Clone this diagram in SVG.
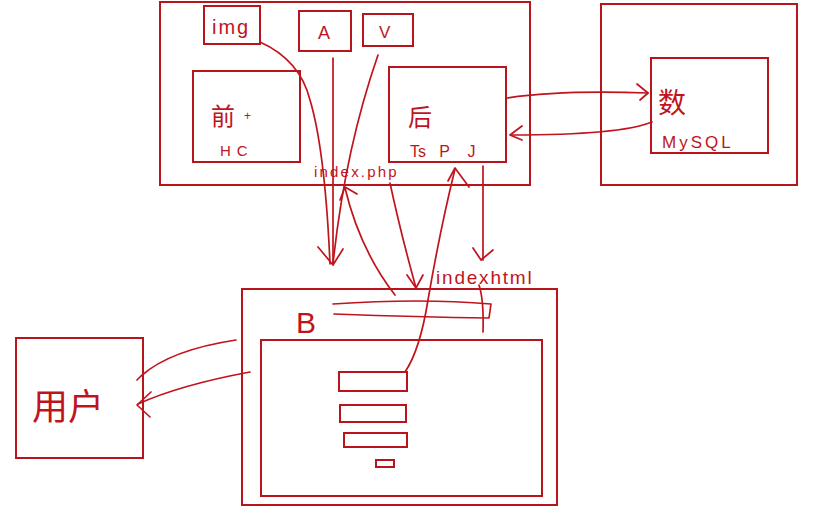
<svg xmlns="http://www.w3.org/2000/svg" width="815" height="525" viewBox="0 0 815 525">
<style>
.b{fill:none;stroke:#b8141c;stroke-width:2}
.l{fill:none;stroke:#c0141c;stroke-width:1.7;stroke-linecap:round;stroke-linejoin:round}
.t{fill:#c0141c;font-family:"Liberation Sans","Noto Sans CJK SC",sans-serif}
</style>
<rect width="815" height="525" fill="#ffffff"/>
<g id="server">
<rect class="b" x="160" y="2" width="370" height="183"/>
</g>
<g id="img"><rect class="b" x="204" y="6" width="56" height="38"/><text class="t" x="212" y="34" font-size="20" letter-spacing="2">img</text></g>
<g id="A"><rect class="b" x="299" y="11" width="52" height="40"/><text class="t" x="318" y="39" font-size="18">A</text></g>
<g id="V"><rect class="b" x="363" y="14" width="50" height="32"/><text class="t" x="379" y="38" font-size="17">V</text></g>
<g id="frontend"><rect class="b" x="193" y="71" width="107" height="91"/>
<text class="t" x="211" y="125" font-size="24">前</text><text class="t" x="244" y="120" font-size="12">+</text>
<text class="t" x="220" y="156" font-size="15" letter-spacing="6">HC</text></g>
<g id="backend"><rect class="b" x="389" y="67" width="117" height="95"/>
<text class="t" x="408" y="126" font-size="24">后</text>
<text class="t" x="410" y="157" font-size="16" xml:space="preserve">Ts   P    J</text></g>
<g id="db-outer"><rect class="b" x="601" y="4" width="196" height="181"/></g>
<g id="mysql"><rect class="b" x="651" y="58" width="117" height="95"/>
<text class="t" x="658" y="113" font-size="28">数</text>
<text class="t" x="662" y="148" font-size="17" letter-spacing="3">MySQL</text></g>
<g id="browser"><rect class="b" x="242" y="289" width="315" height="216"/>
<text class="t" x="296" y="333" font-size="30">B</text>
<path class="l" d="M333,304 Q420,298 491,304 L489,318 Q420,317 334,314"/>
<rect class="b" x="261" y="340" width="281" height="156"/>
<rect class="b" x="339" y="372" width="68" height="19"/>
<rect class="b" x="340" y="405" width="66" height="17"/>
<rect class="b" x="344" y="433" width="63" height="14"/>
<rect class="b" x="376" y="460" width="18" height="7"/>
</g>
<g id="user"><rect class="b" x="16" y="338" width="127" height="120"/>
<text class="t" x="32" y="420" font-size="36">用户</text></g>
<g id="connectors">
<path class="l" d="M260,42 Q300,60 310,100 Q325,150 330,264"/>
<path class="l" d="M333,58 L333,264"/>
<path class="l" d="M378,55 Q345,150 333,264"/>
<path class="l" d="M318,247 L333,265 L343,249"/>
<path class="l" d="M395,295 Q360,250 345,188"/>
<path class="l" d="M340,200 L345,187 L357,194"/>
<path class="l" d="M390,183 Q400,230 416,288"/>
<path class="l" d="M407,275 L416,288 L423,275"/>
<path class="l" d="M405,372 Q420,350 428,300 Q440,230 455,169"/>
<path class="l" d="M448,181 L455,168 L469,187"/>
<path class="l" d="M483,166 L483,260"/>
<path class="l" d="M473,248 L481,260 L493,250"/>
<path class="l" d="M479,285 Q484,300 483,332"/>
<path class="l" d="M507,98 Q560,90 648,93"/>
<path class="l" d="M637,84 L648,93 L640,100"/>
<path class="l" d="M652,122 Q620,135 512,135"/>
<path class="l" d="M522,126 L510,135 L522,140"/>
<path class="l" d="M236,340 Q170,350 141,376 L137,380"/>
<path class="l" d="M250,372 Q180,385 138,404"/>
<path class="l" d="M151,392 L137,405 L150,417"/>
</g>
<text class="t" x="314" y="177" font-size="15" letter-spacing="2.2">index.php</text>
<text class="t" x="436" y="284" font-size="19" letter-spacing="1.8">indexhtml</text>
</svg>
